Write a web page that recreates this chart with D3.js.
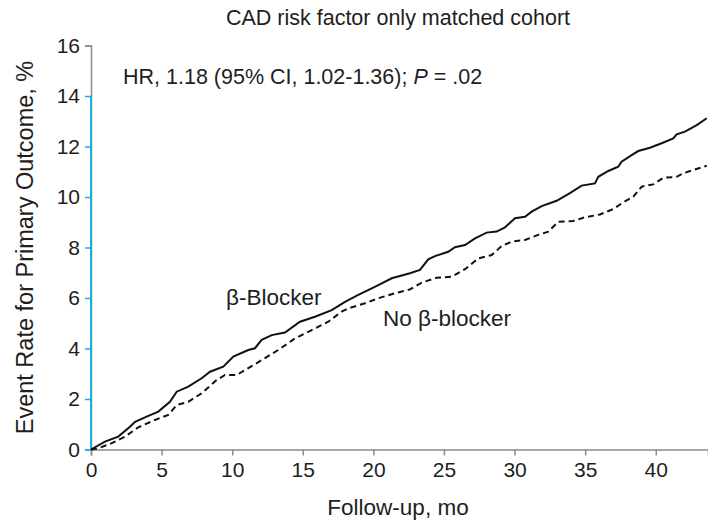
<!DOCTYPE html>
<html>
<head>
<meta charset="utf-8">
<script src="https://cdn.jsdelivr.net/npm/d3@7"></script>
<style>
  html, body { margin: 0; padding: 0; background: #fff; }
  svg { display: block; font-family: "Liberation Sans", Arial, Helvetica, sans-serif; }
</style>
</head>
<body>
<svg id="chart" width="708" height="520"></svg>
<script>
// ---- Data ----
const title = "CAD risk factor only matched cohort";
const xTicks = [0, 5, 10, 15, 20, 25, 30, 35, 40];
const yTicks = [0, 2, 4, 6, 8, 10, 12, 14, 16];

// β-Blocker (solid): months, event rate %
const blockerMonths = [0, 0.99, 1.93, 2.76, 3.12, 3.94, 4.77, 5.59, 6.07, 6.89, 7.84, 8.43, 9.37, 10.08, 11.14, 11.61, 12.09, 12.80, 13.74, 14.80, 15.86, 17.05, 17.99, 18.93, 19.41, 20.35, 21.30, 22.59, 23.30, 23.89, 24.36, 25.30, 25.78, 26.49, 27.20, 28.02, 28.73, 29.32, 30.03, 30.74, 31.21, 31.92, 32.98, 33.92, 34.75, 35.69, 35.93, 36.64, 37.34, 37.58, 38.29, 38.76, 39.59, 40.42, 41.24, 41.48, 42.07, 42.90, 43.61];
const blockerRate   = [0, 0.31, 0.51, 0.90, 1.10, 1.30, 1.50, 1.89, 2.29, 2.49, 2.82, 3.08, 3.28, 3.68, 3.94, 4.01, 4.34, 4.53, 4.63, 5.06, 5.26, 5.52, 5.85, 6.12, 6.25, 6.51, 6.78, 6.98, 7.11, 7.53, 7.66, 7.83, 8.01, 8.10, 8.36, 8.59, 8.63, 8.80, 9.16, 9.22, 9.42, 9.64, 9.85, 10.15, 10.45, 10.54, 10.80, 11.03, 11.20, 11.40, 11.66, 11.82, 11.95, 12.13, 12.32, 12.48, 12.59, 12.85, 13.12];

// No β-blocker (dashed)
const noBlockerMonths = [0, 0.52, 1.47, 2.41, 3.35, 4.53, 5.47, 6.07, 6.89, 7.84, 8.90, 9.49, 10.32, 11.14, 12.09, 13.26, 14.45, 15.63, 16.81, 17.75, 18.22, 19.41, 20.35, 21.53, 22.59, 23.42, 24.48, 25.55, 26.49, 27.43, 28.38, 29.09, 29.79, 30.74, 31.68, 32.39, 33.09, 34.16, 34.87, 36.05, 36.99, 37.70, 38.41, 39.00, 39.82, 40.53, 41.48, 41.95, 42.66, 43.61];
const noBlockerRate   = [0, 0.05, 0.25, 0.51, 0.88, 1.17, 1.37, 1.76, 1.89, 2.23, 2.75, 2.95, 2.95, 3.22, 3.54, 3.94, 4.40, 4.73, 5.06, 5.46, 5.59, 5.79, 5.99, 6.19, 6.34, 6.61, 6.80, 6.84, 7.14, 7.57, 7.70, 8.06, 8.23, 8.30, 8.50, 8.63, 9.02, 9.05, 9.18, 9.31, 9.52, 9.79, 10.01, 10.41, 10.50, 10.76, 10.80, 10.94, 11.07, 11.24];

const seriesNames = ["β-Blocker", "No β-blocker"];

// ---- Drawing ----
const svg = d3.select("#chart");
const x = d3.scaleLinear().domain([0, 43.7]).range([91, 708]);
const y = d3.scaleLinear().domain([0, 16]).range([449.5, 45.5]);

const axisGray = "#8a8a8a";
const blue = "#1aade6";
const textColor = "#1e1e1e";
const font = "Liberation Sans, Arial, sans-serif";

// X axis
const xAxis = svg.append("g")
  .attr("transform", `translate(0,${y(0)})`)
  .call(d3.axisBottom(x).tickValues(xTicks).tickSize(6).tickPadding(7).tickFormat(d3.format("d")));
xAxis.select(".domain").attr("stroke", axisGray).attr("stroke-width", 1.5);
xAxis.selectAll(".tick line").attr("stroke", axisGray).attr("stroke-width", 1.5);
xAxis.selectAll(".tick text").attr("font-size", 21).attr("fill", textColor)
  .attr("font-family", font);

// Y axis
const yAxis = svg.append("g")
  .attr("transform", `translate(${x(0)},0)`)
  .call(d3.axisLeft(y).tickValues(yTicks).tickSize(6).tickPadding(5).tickFormat(d3.format("d")));
yAxis.select(".domain").attr("stroke", axisGray).attr("stroke-width", 1.5);
yAxis.selectAll(".tick line")
  .attr("stroke", d => d <= 14 ? blue : axisGray).attr("stroke-width", 1.5);
yAxis.selectAll(".tick text").attr("font-size", 21).attr("fill", textColor)
  .attr("font-family", font);
// highlighted (blue) part of the y axis line
svg.append("line")
  .attr("x1", x(0)).attr("x2", x(0))
  .attr("y1", y(0)).attr("y2", y(14))
  .attr("stroke", blue).attr("stroke-width", 2);

// Lines
const line = d3.line().x(d => x(d[0])).y(d => y(d[1]));
const blockerData = blockerMonths.map((m, i) => [m, blockerRate[i]]);
const noBlockerData = noBlockerMonths.map((m, i) => [m, noBlockerRate[i]]);

svg.append("path").datum(noBlockerData)
  .attr("d", line).attr("fill", "none").attr("stroke", "#111")
  .attr("stroke-width", 2).attr("stroke-dasharray", "6,4");
svg.append("path").datum(blockerData)
  .attr("d", line).attr("fill", "none").attr("stroke", "#111")
  .attr("stroke-width", 2);

// Title
svg.append("text").attr("x", 398).attr("y", 25).attr("text-anchor", "middle")
  .attr("font-size", 21.5).attr("fill", textColor).text(title);

// HR annotation
const ann = svg.append("text").attr("x", 123).attr("y", 84)
  .attr("font-size", 21.5).attr("fill", textColor);
ann.append("tspan").text("HR, 1.18 (95% CI, 1.02-1.36); ");
ann.append("tspan").attr("font-style", "italic").text("P");
ann.append("tspan").text(" = .02");

// Series labels
svg.append("text").attr("x", 226).attr("y", 305).attr("font-size", 22.5).attr("fill", textColor).text(seriesNames[0]);
svg.append("text").attr("x", 383).attr("y", 326).attr("font-size", 22.5).attr("fill", textColor).text(seriesNames[1]);

// Axis titles
svg.append("text").attr("x", 398).attr("y", 515).attr("text-anchor", "middle")
  .attr("font-size", 22.5).attr("fill", textColor).text("Follow-up, mo");
svg.append("text").attr("transform", `translate(33,${(y(0) + y(16)) / 2}) rotate(-90)`)
  .attr("text-anchor", "middle").attr("font-size", 23.5).attr("fill", textColor)
  .text("Event Rate for Primary Outcome, %");
</script>
</body>
</html>
